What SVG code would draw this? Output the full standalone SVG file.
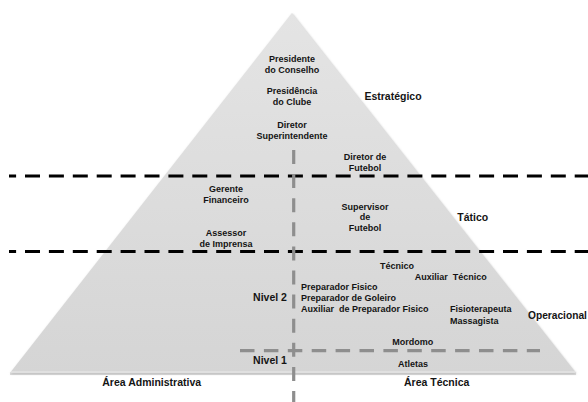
<svg xmlns="http://www.w3.org/2000/svg" width="588" height="402" viewBox="0 0 588 402">
<defs>
<linearGradient id="fillg" x1="0" y1="0" x2="0" y2="1">
<stop offset="0" stop-color="#e4e4e4"/>
<stop offset="1" stop-color="#d5d5d5"/>
</linearGradient>
<filter id="soft" x="-5%" y="-5%" width="110%" height="110%">
<feGaussianBlur stdDeviation="0.8"/>
</filter>
<style>
text{font-family:"Liberation Sans",Arial,sans-serif;font-weight:bold;fill:#141414;}
.s{font-size:9px;}
.l{font-size:10.5px;}
.c{text-anchor:middle;}
.pre{white-space:pre;}
.blk{stroke:#000;stroke-width:3.2;stroke-dasharray:15 8.9;fill:none;}
.gry{stroke:#8e8e8e;stroke-width:3.2;stroke-dasharray:14 10;fill:none;}
</style>
</defs>
<rect width="588" height="402" fill="#fff"/>
<g id="pyramid">
<polygon points="292,13 576,373 10,373" fill="#bdbdbd" filter="url(#soft)" transform="translate(0.5,1)"/>
<polygon points="292,13 576,373 10,373" fill="url(#fillg)"/>
<line x1="11" y1="372" x2="575" y2="372" stroke="#ececec" stroke-width="1.2"/>
<line x1="10" y1="374" x2="576" y2="374" stroke="#b8b8b8" stroke-width="1"/>
</g>
<g id="connectors">
<line class="blk" x1="9" y1="176" x2="588" y2="176" stroke-dashoffset="7.9"/>
<line class="blk" x1="9" y1="251.5" x2="588" y2="251.5" stroke-dashoffset="7.9"/>
<line class="gry" x1="293.7" y1="150" x2="293.7" y2="402" style="stroke-dasharray:14 10.1"/>
<line class="gry" x1="240" y1="350.7" x2="540" y2="350.7" style="stroke-dasharray:14.5 9.4"/>
</g>
<g id="presidente-conselho"><text class="s c" x="292" y="62.3">Presidente</text><text class="s c" x="292" y="73.3">do Conselho</text></g>
<g id="presidencia-clube"><text class="s c" x="292" y="94">Presidência</text><text class="s c" x="292" y="105">do Clube</text></g>
<g id="diretor-superintendente"><text class="s c" x="292" y="128.3">Diretor</text><text class="s c" x="292" y="139.3">Superintendente</text></g>
<g id="estrategico"><text class="l c" x="393" y="100.4">Estratégico</text></g>
<g id="diretor-futebol"><text class="s c" x="365" y="160.3">Diretor de</text><text class="s c" x="365" y="171.3">Futebol</text></g>
<g id="gerente-financeiro"><text class="s c" x="226" y="192.3">Gerente</text><text class="s c" x="226" y="203.3">Financeiro</text></g>
<g id="assessor-imprensa"><text class="s c" x="226" y="236">Assessor</text><text class="s c" x="226" y="246.6">de Imprensa</text></g>
<g id="supervisor-futebol"><text class="s c" x="365" y="210">Supervisor</text><text class="s c" x="365" y="220">de</text><text class="s c" x="365" y="231">Futebol</text></g>
<g id="tatico"><text class="l c" x="472.7" y="220.7">Tático</text></g>
<g id="tecnico"><text class="s c" x="397" y="269.2">Técnico</text></g>
<g id="auxiliar-tecnico"><text class="s c pre" x="450.7" y="280">Auxiliar  Técnico</text></g>
<g id="preparadores"><text class="s" x="301" y="290">Preparador Fisico</text><text class="s" x="301" y="301">Preparador de Goleiro</text><text class="s pre" x="301" y="312.2">Auxiliar  de Preparador Fisico</text></g>
<g id="fisio-massagista"><text class="s" x="450" y="312.2">Fisioterapeuta</text><text class="s" x="450" y="324.2">Massagista</text></g>
<g id="operacional"><text class="l" x="528" y="318.7" style="font-size:10.2px">Operacional</text></g>
<g id="mordomo"><text class="s c" x="412.7" y="345">Mordomo</text></g>
<g id="atletas"><text class="s c" x="413" y="367.2">Atletas</text></g>
<g id="nivel2"><text class="l c" x="270" y="301">Nivel 2</text></g>
<g id="nivel1"><text class="l c" x="270" y="363.7">Nivel 1</text></g>
<g id="area-administrativa"><text class="l c" x="151.7" y="386.4">Área Administrativa</text></g>
<g id="area-tecnica"><text class="l c" x="436.7" y="386.4">Área Técnica</text></g>
</svg>
